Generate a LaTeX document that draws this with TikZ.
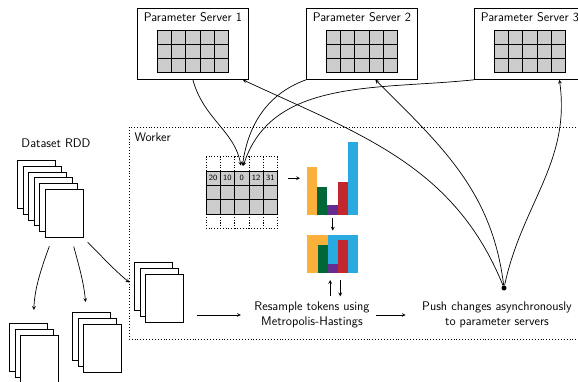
\documentclass[tikz,border=0pt]{standalone}
\usepackage{fontspec}
\usepackage{xcolor}
\usepackage{tikz}
\usetikzlibrary{calc}

\definecolor{barorange}{RGB}{251,176,59}
\definecolor{bargreen}{RGB}{0,104,55}
\definecolor{barpurple}{RGB}{102,45,145}
\definecolor{barred}{RGB}{193,39,45}
\definecolor{barblue}{RGB}{41,171,226}

\tikzset{
    page/.style={draw, fill=white, line width=0.8pt, minimum width=38pt,
        minimum height=48pt, inner sep=0pt, anchor=north west},
    cell/.style={draw, fill=black!20, line width=0.8pt},
    ghostcell/.style={draw, dotted, line width=0.8pt},
    server/.style={draw, line width=0.8pt, minimum width=111pt,
        minimum height=71pt, inner sep=0pt, anchor=north west},
    barbox/.style={inner sep=0pt, anchor=south west},
    link/.style={->, >=stealth, line width=0.7pt},
}

\begin{document}
\begin{tikzpicture}[x=1pt, y=1pt, font=\sffamily\fontsize{12.5}{15}\selectfont]
    \def\cellw{14.3}
    \def\pagedx{5.5}
    \def\pagedy{5.8}

    \useasboundingbox (0,0) rectangle (578,381);
    \clip (0,0) rectangle (578,381);

    \foreach [count=\i] \x in {137,306,474} {
        \node[server] (ps\i) at (\x,373) {};
        \node (ps\i-t) at ([yshift=-9pt]ps\i.north) {Parameter Server \i};
        \foreach \r in {0,1,2}
            \foreach \c in {0,...,4}
                \draw[cell] ($(ps\i.north)+(\c*\cellw-2.5*\cellw,-22-\r*\cellw)$)
                    rectangle ++(\cellw,-\cellw);
    }

    \draw[dotted, line width=0.9pt] (129,254) rectangle (600,42);
    \node[anchor=north west] (worker-t) at (131,252) {Worker};

    \foreach [count=\c from 0] \v in {20,10,0,12,31} {
        \draw[ghostcell] (206+\c*\cellw,210) rectangle ++(\cellw,\cellw);
        \draw[ghostcell] (206+\c*\cellw,167) rectangle ++(\cellw,-\cellw);
        \node[cell, minimum size=\cellw pt, inner sep=0pt,
            font=\sffamily\fontsize{8}{9}\selectfont]
            (w\c) at (206+\c*\cellw+0.5*\cellw,210-0.5*\cellw) {\v};
        \foreach \r in {1,2}
            \draw[cell] (206+\c*\cellw,210-\r*\cellw) rectangle ++(\cellw,-\cellw);
    }

    \node[barbox, minimum width=51pt, minimum height=73pt] (hist1) at (307,166) {};
    \foreach [count=\b from 0] \h/\col in
        {48/barorange,28/bargreen,10/barpurple,33/barred,73/barblue}
        \fill[\col] ($(hist1.south west)+(\b*10.2,0)$) rectangle ++(10.2,\h);

    \node[barbox, minimum width=51pt, minimum height=38pt] (hist2) at (307,108) {};
    \fill[barorange] (hist2.south west) rectangle ++(21,38);
    \fill[barblue] ($(hist2.south west)+(21,0)$) rectangle (hist2.north east);
    \fill[bargreen] ($(hist2.south west)+(11,0)$) rectangle ++(10,28);
    \fill[barpurple] ($(hist2.south west)+(21,0)$) rectangle ++(10,9);
    \fill[barred] ($(hist2.south west)+(31,0)$) rectangle ++(10,33);

    \node[align=center] (resample) at (312,66) {Resample tokens using\\Metropolis-Hastings};
    \node[align=center] (push) at (497,66) {Push changes asynchronously\\to parameter servers};
    \node[circle, fill, inner sep=0pt, minimum size=5pt] (pushdot) at (504,93) {};

    \newcommand{\docstack}[4]{%
        \foreach \p in {1,...,#2}
            \node[page] (#1-\p) at ({#3+(\p-1)*\pagedx},{#4-(\p-1)*\pagedy}) {};
    }
    \node (rdd-t) at (56,238) {Dataset RDD};
    \docstack{rdd}{6}{17}{221}
    \docstack{left}{3}{9}{58}
    \docstack{mid}{3}{72}{69}
    \docstack{wk}{3}{134}{119}

    \draw[link, shorten <=9pt, shorten >=13pt]
        ([xshift=-11.5pt]rdd-6.south) to[out=-110, in=88] ([xshift=5pt]left-1.north);
    \draw[link, shorten <=9pt, shorten >=10pt]
        ([xshift=7.5pt]rdd-6.south) to[out=-75, in=95] ([xshift=-5pt]mid-1.north);
    \draw[link, shorten <=6pt, shorten >=6pt]
        (rdd-6.south east) to[out=-45, in=140] (wk-1.west);

    \draw[link, shorten <=13pt, shorten >=10pt] (wk-3.east |- resample.west) -- (resample.west);
    \draw[link, shorten <=3pt, shorten >=13pt] (resample) -- (push);
    \draw[link, shorten <=2pt, shorten >=7pt]
        ([xshift=-2.5pt]hist2.south |- resample.north) -- ([xshift=-2.5pt]hist2.south);
    \draw[link, shorten <=7pt, shorten >=2pt]
        ([xshift=7.5pt]hist2.south) -- ([xshift=7.5pt]hist2.south |- resample.north);
    \draw[link, shorten <=10pt, shorten >=7pt] (w4.east) -- (w4.east -| hist1.west);
    \draw[link, shorten <=3pt, shorten >=4pt] (hist1) -- (hist2);

    \draw[link, shorten >=5pt] (ps1.south) to[out=-75, in=100] (w2.north);
    \draw[link, shorten >=5pt] (ps2.south west) to[out=200, in=82] (w2.north);
    \draw[link, shorten >=5pt] (ps3.south west) to[out=186, in=72] (w2.north);

    \draw[link] (pushdot) to[out=112, in=-25] ([xshift=-6pt]ps1.south east);
    \draw[link] (pushdot) to[out=97, in=-45] ([xshift=13.5pt]ps2.south);
    \draw[link] (pushdot) to[out=78, in=-82] ([xshift=29.5pt]ps3.south);
\end{tikzpicture}
\end{document}
